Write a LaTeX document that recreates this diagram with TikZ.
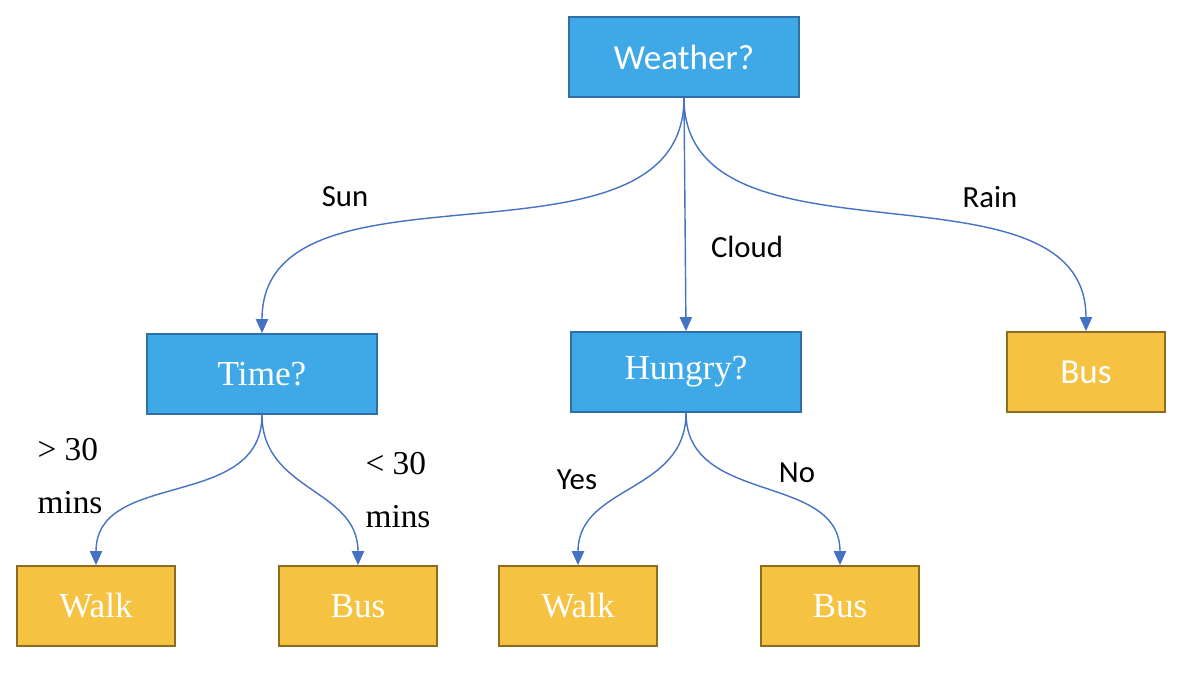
\documentclass[tikz,border=0pt]{standalone}
\usepackage{fontspec}
\setmainfont{Liberation Serif}
\newfontfamily\calfont{Carlito}
\usetikzlibrary{arrows.meta}
\definecolor{bfill}{HTML}{3FA9E8}
\definecolor{bdraw}{HTML}{2E6FA8}
\definecolor{yfill}{HTML}{F5C242}
\definecolor{ydraw}{HTML}{8C6D1F}
\definecolor{edge}{HTML}{4472C4}
\begin{document}
\begin{tikzpicture}[x=0.02cm,y=-0.02cm,
  qbox/.style={draw=bdraw,line width=1pt,fill=bfill,text=white,minimum width=4.6cm,minimum height=1.6cm,inner sep=0pt},
  lbox/.style={draw=ydraw,line width=1pt,fill=yfill,text=white,minimum width=3.16cm,minimum height=1.6cm,inner sep=0pt},
  conn/.style={draw=edge,line width=0.8pt,-{Triangle[width=7pt,length=8pt]},out=-90,in=90},
  lab/.style={font=\calfont\fontsize{17.5}{20}\selectfont,inner sep=0pt},
  slab/.style={font=\fontsize{19}{30}\selectfont,inner sep=0pt,align=left}]
\useasboundingbox (0,0) rectangle (1194,684);
\node[qbox,font=\calfont\fontsize{20}{22}\selectfont] (w) at (684,57) {Weather?};
\node[qbox,font=\fontsize{20}{22}\selectfont] (t) at (262,374) {Time?};
\node[qbox,font=\fontsize{20}{22}\selectfont] (h) at (686,372) {Hungry?};
\node[lbox,font=\calfont\fontsize{20}{22}\selectfont] (b0) at (1086,372) {Bus};
\node[lbox,font=\fontsize{20}{22}\selectfont] (w1) at (96,606) {Walk};
\node[lbox,font=\fontsize{20}{22}\selectfont] (b1) at (358,606) {Bus};
\node[lbox,font=\fontsize{20}{22}\selectfont] (w2) at (578,606) {Walk};
\node[lbox,font=\fontsize{20}{22}\selectfont] (b2) at (840,606) {Bus};
\draw[conn,looseness=1] (w.south) to (t.north);
\draw[conn] (w.south) -- (h.north);
\draw[conn,looseness=1] (w.south) to (b0.north);
\draw[conn,looseness=1.1] (t.south) to (w1.north);
\draw[conn,looseness=1.1] (t.south) to (b1.north);
\draw[conn,looseness=1.1] (h.south) to (w2.north);
\draw[conn,looseness=1.1] (h.south) to (b2.north);
\node[lab] (ls) at (345,197) {Sun};
\node[lab] (lc) at (747,247) {Cloud};
\node[lab] (lr) at (990,197) {Rain};
\node[lab] (ly) at (577,480) {Yes};
\node[lab] (ln) at (797,473) {No};
\node[slab] (lg) at (70,476) {> 30\\mins};
\node[slab] (ll) at (398,490) {< 30\\mins};
\end{tikzpicture}
\end{document}
